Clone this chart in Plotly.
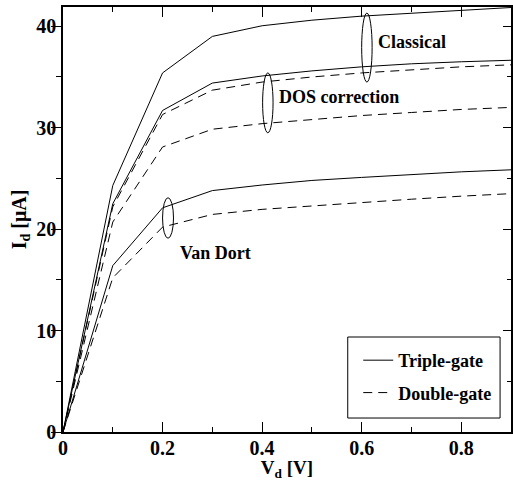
import plotly.graph_objects as go

vd = [0.0, 0.1, 0.2, 0.3, 0.4, 0.5, 0.6, 0.7, 0.8, 0.9]
classical_tg = [0, 24.3, 35.4, 39.0, 40.05, 40.6, 41.0, 41.3, 41.6, 41.85]
classical_dg = [0, 22.2, 31.3, 33.7, 34.5, 35.0, 35.4, 35.7, 36.0, 36.2]
dos_tg = [0, 22.5, 31.7, 34.4, 35.1, 35.6, 36.0, 36.3, 36.5, 36.65]
dos_dg = [0, 20.7, 28.1, 29.85, 30.4, 30.8, 31.2, 31.5, 31.8, 32.0]
vandort_tg = [0, 16.4, 22.1, 23.8, 24.35, 24.8, 25.1, 25.4, 25.65, 25.85]
vandort_dg = [0, 15.2, 20.2, 21.45, 21.95, 22.3, 22.6, 22.95, 23.25, 23.5]

legend_names = ["Triple-gate", "Double-gate"]
group_labels = ["Classical", "DOS correction", "Van Dort"]

FONT = "Liberation Serif"
fig = go.Figure()

series = [
    (classical_tg, "solid", 0, True),
    (classical_dg, "9px,6px", 1, True),
    (dos_tg, "solid", 0, False),
    (dos_dg, "9px,6px", 1, False),
    (vandort_tg, "solid", 0, False),
    (vandort_dg, "9px,6px", 1, False),
]
for ys, dash, li, show in series:
    fig.add_trace(go.Scatter(
        x=vd, y=ys, mode="lines",
        line=dict(color="black", width=1, dash=dash),
        name=legend_names[li], legendgroup=legend_names[li], showlegend=show,
    ))

# ellipses (data coordinates)
ellipses = [(0.600, 0.621, 34.5, 41.3), (0.401, 0.422, 29.5, 35.4), (0.200, 0.222, 19.1, 23.1)]
for x0, x1, y0, y1 in ellipses:
    fig.add_shape(type="circle", xref="x", yref="y", x0=x0, x1=x1, y0=y0, y1=y1,
                  line=dict(color="black", width=1))

label_pos = [(0.628, 38.45), (0.430, 33.0), (0.232, 17.6)]
for (lx, ly), txt in zip(label_pos, group_labels):
    fig.add_annotation(x=lx, y=ly, text=txt, showarrow=False, xanchor="left", yanchor="middle",
                       font=dict(family=FONT, size=18, color="black", weight="bold"))

# legend frame
fig.add_shape(type="rect", xref="paper", yref="paper", x0=0.6356, x1=0.9756, y0=0.0329, y1=0.2235,
              line=dict(color="black", width=1), fillcolor="white", layer="below")

fig.add_trace(go.Scatter(x=[0], y=[0], yaxis="y2", mode="lines", showlegend=False,
                         line=dict(width=0), hoverinfo="skip"))

fig.update_layout(
    width=513, height=481,
    margin=dict(l=63, r=0, t=7, b=49),
    paper_bgcolor="white", plot_bgcolor="white",
    font=dict(family=FONT, color="black", size=18),
    showlegend=True,
    legend=dict(x=0.659, y=0.2118, xanchor="left", yanchor="top",
                borderwidth=0, bgcolor="rgba(0,0,0,0)",
                font=dict(family=FONT, size=18, color="black", weight="bold"),
                itemwidth=30, tracegroupgap=6),
    xaxis=dict(range=[0, 0.9], dtick=0.2, tick0=0, showgrid=False, zeroline=False,
               showline=True, linecolor="black", linewidth=1.5, mirror="ticks",
               ticks="inside", ticklen=10, tickwidth=1, tickcolor="black",
               minor=dict(dtick=0.1, ticks="inside", ticklen=5, tickwidth=1, tickcolor="black"),
               tickfont=dict(family=FONT, size=20, color="black", weight="bold"),
               tickformat=".1~f", ticklabelstandoff=-3,
               title=dict(text="V<sub>d</sub> [V]", standoff=0,
                          font=dict(family=FONT, size=19, color="black", weight="bold"))),
    yaxis=dict(range=[0, 41.9], dtick=10, tick0=0, showgrid=False, zeroline=False,
               showline=True, linecolor="black", linewidth=1.5, mirror=True,
               ticks="outside", ticklen=10, tickwidth=1, tickcolor="black",
               minor=dict(dtick=5, ticks="outside", ticklen=5, tickwidth=1, tickcolor="black"),
               tickfont=dict(family=FONT, size=20, color="black", weight="bold"),
               ticklabelstandoff=-9,
               title=dict(text="I<sub>d</sub> [μA]", standoff=4,
                          font=dict(family=FONT, size=20, color="black", weight="bold"))),
    yaxis2=dict(range=[0, 41.9], dtick=10, tick0=0, overlaying="y", side="right",
                showgrid=False, zeroline=False, showline=False, showticklabels=False,
                ticks="inside", ticklen=8, tickwidth=1, tickcolor="black",
                minor=dict(dtick=5, ticks="inside", ticklen=4, tickwidth=1, tickcolor="black")),
)

fig.write_html("out.html", config={"displayModeBar": False},
               post_script="document.body.style.margin='0';document.body.style.padding='0';")
